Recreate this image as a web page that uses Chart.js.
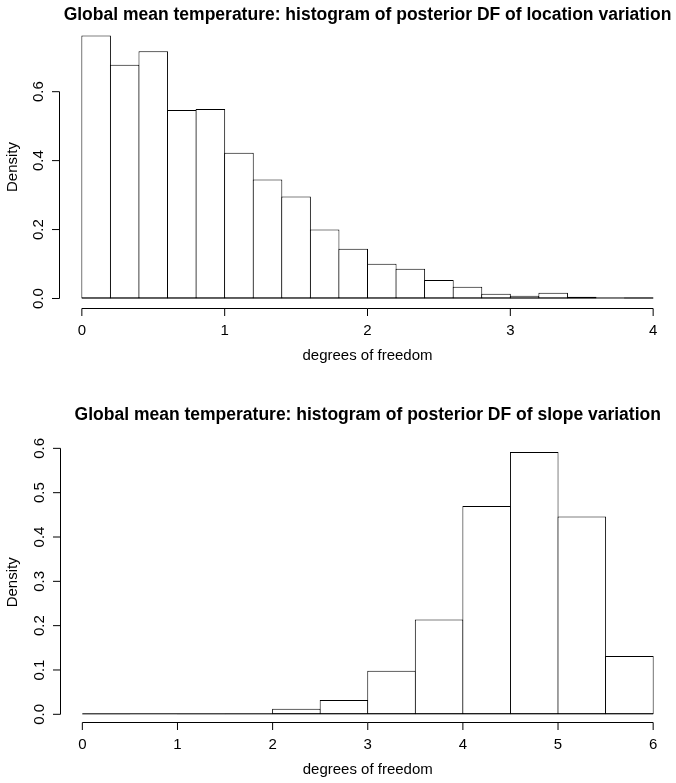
<!DOCTYPE html>
<html>
<head>
<meta charset="utf-8">
<title>Global mean temperature: posterior DF</title>
<script src="https://cdn.jsdelivr.net/npm/chart.js@4.4.1/dist/chart.umd.min.js"></script>
<style>
  html, body { margin: 0; padding: 0; background: #fff; }
  canvas { display: block; }
</style>
</head>
<body>
<canvas id="locChart" width="676" height="390"></canvas>
<canvas id="slopeChart" width="676" height="393"></canvas>
<script>
// ----------- DATA ----------- //

// location variation: bin breaks and density per bin
const locBreaks = [0, 0.2, 0.4, 0.6, 0.8, 1.0, 1.2, 1.4, 1.6, 1.8, 2.0,
                   2.2, 2.4, 2.6, 2.8, 3.0, 3.2, 3.4, 3.6, 3.8, 4.0];
const locDensity = [0.763, 0.678, 0.717, 0.547, 0.550, 0.423, 0.345, 0.296, 0.200, 0.144,
                    0.101, 0.086, 0.054, 0.034, 0.014, 0.008, 0.017, 0.005, 0.000, 0.003];
const locXTicks = [0, 1, 2, 3, 4];
const locYTicks = [0.0, 0.2, 0.4, 0.6];

// slope variation
const slopeBreaks = [0, 0.5, 1, 1.5, 2, 2.5, 3, 3.5, 4, 4.5, 5, 5.5, 6];
const slopeDensity = [0.0005, 0.0002, 0.0004, 0.0015, 0.0127, 0.032,
                      0.098, 0.214, 0.470, 0.592, 0.446, 0.1316];
const slopeXTicks = [0, 1, 2, 3, 4, 5, 6];
const slopeYTicks = [0.0, 0.1, 0.2, 0.3, 0.4, 0.5, 0.6];

const FONT = '"Liberation Sans", Helvetica, Arial, sans-serif';

// ----------- HELPERS ----------- //

function toPoints(breaks, density) {
  return density.map((d, i) => ({ x: (breaks[i] + breaks[i + 1]) / 2, y: d }));
}

function line(ctx, x1, y1, x2, y2) {
  ctx.beginPath();
  ctx.moveTo(x1, y1);
  ctx.lineTo(x2, y2);
  ctx.stroke();
}

// base-graphics style axes, title and labels
const baseAxes = {
  id: "baseAxes",
  afterDatasetsDraw(chart, args, opt) {
    const { ctx, chartArea: area, scales: { x, y } } = chart;
    const tick = 7.5;
    ctx.save();
    ctx.strokeStyle = "#000";
    ctx.fillStyle = "#000";
    ctx.lineWidth = 1;

    // histogram baseline
    const y0 = y.getPixelForValue(0) - 0.5;
    line(ctx, x.getPixelForValue(opt.breaks[0]), y0,
      x.getPixelForValue(opt.breaks[opt.breaks.length - 1]), y0);

    // x axis
    const xb = Math.round(area.bottom) - 0.5;
    const xt = opt.xTicks;
    line(ctx, x.getPixelForValue(xt[0]), xb, x.getPixelForValue(xt[xt.length - 1]), xb);
    ctx.font = "15px " + FONT;
    ctx.textAlign = "center";
    ctx.textBaseline = "middle";
    xt.forEach(v => {
      const px = x.getPixelForValue(v);
      line(ctx, px, xb, px, xb + tick);
      ctx.fillText(String(v), px, xb + 22);
    });

    // y axis
    const yl = Math.round(area.left) + 0.5;
    const yt = opt.yTicks;
    line(ctx, yl, y.getPixelForValue(yt[0]), yl, y.getPixelForValue(yt[yt.length - 1]));
    yt.forEach(v => {
      const py = y.getPixelForValue(v);
      line(ctx, yl, py, yl - tick, py);
      ctx.save();
      ctx.translate(yl - 21, py);
      ctx.rotate(-Math.PI / 2);
      ctx.fillText(v.toFixed(1), 0, 0);
      ctx.restore();
    });

    // axis titles
    const cx = (area.left + area.right) / 2;
    ctx.fillText(opt.xLabel, cx, xb + 47);
    ctx.save();
    ctx.translate(13, (area.top + area.bottom) / 2);
    ctx.rotate(-Math.PI / 2);
    ctx.fillText("Density", 0, 0);
    ctx.restore();

    // main title
    ctx.font = "bold 17.5px " + FONT;
    ctx.fillText(opt.title, cx, opt.titleY);
    ctx.restore();
  }
};

function drawHistogram(id, breaks, density, opts) {
  new Chart(document.getElementById(id), {
    type: "bar",
    data: {
      datasets: [{
        data: toPoints(breaks, density),
        backgroundColor: "#fff",
        borderColor: "#000",
        borderWidth: 1,
        borderSkipped: false,
        categoryPercentage: 1,
        barPercentage: opts.barPct,
      }],
    },
    options: {
      responsive: false,
      animation: false,
      layout: { padding: opts.padding },
      plugins: {
        legend: { display: false },
        tooltip: { enabled: false },
        baseAxes: {
          breaks: breaks,
          xTicks: opts.xTicks,
          yTicks: opts.yTicks,
          xLabel: "degrees of freedom",
          title: opts.title,
          titleY: opts.titleY,
        },
      },
      scales: {
        x: { type: "linear", display: false, offset: false, min: opts.xMin, max: opts.xMax },
        y: { display: false, min: opts.yMin, max: opts.yMax },
      },
    },
    plugins: [baseAxes],
  });
}

// ----------- CHARTS ----------- //

drawHistogram("locChart", locBreaks, locDensity, {
  title: "Global mean temperature: histogram of posterior DF of location variation",
  titleY: 15,
  xTicks: locXTicks,
  yTicks: locYTicks,
  xMin: -0.16, xMax: 4.16,
  yMin: -0.0305, yMax: 0.7935,
  barPct: 1.035,
  padding: { left: 59, right: 0, top: 25, bottom: 81 },
});

drawHistogram("slopeChart", slopeBreaks, slopeDensity, {
  title: "Global mean temperature: histogram of posterior DF of slope variation",
  titleY: 25,
  xTicks: slopeXTicks,
  yTicks: slopeYTicks,
  xMin: -0.24, xMax: 6.24,
  yMin: -0.0203, yMax: 0.6157,
  barPct: 1.021,
  padding: { left: 59.5, right: 0, top: 51.4, bottom: 59.7 },
});
</script>
</body>
</html>
